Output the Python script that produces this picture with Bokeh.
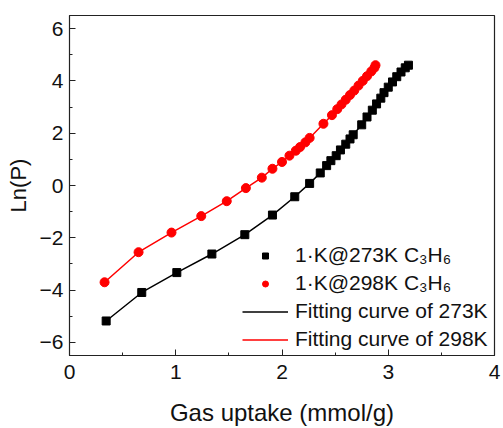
from bokeh.plotting import figure
from bokeh.models import Range1d, SingleIntervalTicker, Legend, LegendItem, ColumnDataSource
from bokeh.embed import file_html
from bokeh.resources import INLINE

# Data
x_273 = [0.345, 0.68, 1.01, 1.34, 1.65, 1.91, 2.12, 2.26, 2.36, 2.42, 2.46, 2.51, 2.55, 2.60,
         2.64, 2.67, 2.75, 2.80, 2.85, 2.89, 2.93, 2.96, 3.00, 3.04, 3.08, 3.12, 3.16, 3.19]
y_273 = [-5.18, -4.09, -3.33, -2.62, -1.88, -1.13, -0.43, 0.08, 0.48, 0.76, 0.95, 1.14, 1.36, 1.58,
         1.78, 1.94, 2.32, 2.62, 2.88, 3.12, 3.34, 3.55, 3.76, 3.96, 4.16, 4.34, 4.50, 4.60]

x_298 = [0.33, 0.65, 0.96, 1.24, 1.48, 1.66, 1.81, 1.91, 2.00, 2.07, 2.13, 2.17, 2.22, 2.26,
         2.39, 2.47, 2.52, 2.56, 2.60, 2.64, 2.68, 2.72, 2.76, 2.80, 2.84, 2.87, 2.88]
y_298 = [-3.70, -2.55, -1.80, -1.17, -0.60, -0.10, 0.30, 0.64, 0.90, 1.14, 1.33, 1.47, 1.65, 1.82,
         2.36, 2.69, 2.92, 3.10, 3.28, 3.46, 3.63, 3.82, 4.00, 4.18, 4.36, 4.50, 4.60]

labels = ["1\u00b7K@273K C\u2083H\u2086", "1\u00b7K@298K C\u2083H\u2086",
          "Fitting curve of 273K", "Fitting curve of 298K"]

FONT = "Liberation Sans"

p = figure(width=503, height=428, output_backend="svg", toolbar_location=None,
           x_range=Range1d(0, 4), y_range=Range1d(-6.5, 6.5),
           min_border_left=69, min_border_right=9, min_border_top=15, min_border_bottom=70)

p.xgrid.visible = False
p.ygrid.visible = False
p.outline_line_color = "#222222"
p.outline_line_width = 1.2
p.background_fill_color = "white"
p.border_fill_color = "white"

p.xaxis.ticker = SingleIntervalTicker(interval=1, num_minor_ticks=2)
p.yaxis.ticker = SingleIntervalTicker(interval=2, num_minor_ticks=2)
for ax in (p.xaxis[0], p.yaxis[0]):
    ax.major_tick_in = 6
    ax.major_tick_out = 0
    ax.minor_tick_in = 3
    ax.minor_tick_out = 0
    ax.axis_line_color = "#222222"
    ax.major_tick_line_color = "#222222"
    ax.minor_tick_line_color = "#222222"
    ax.major_label_text_font = FONT
    ax.major_label_text_font_size = "21px"
    ax.major_label_text_color = "#111111"
    ax.axis_label_text_font = FONT
    ax.axis_label_text_font_style = "normal"
    ax.axis_label_text_color = "#111111"

p.xaxis.axis_label = "Gas uptake (mmol/g)"
p.yaxis.axis_label = "Ln(P)"
p.xaxis.axis_label_text_font_size = "24px"
p.yaxis.axis_label_text_font_size = "22px"
p.xaxis.major_label_standoff = 9
p.xaxis.axis_label_standoff = 17
p.yaxis.major_label_standoff = 6
p.yaxis.axis_label_standoff = 6

src273 = ColumnDataSource(dict(x=x_273, y=y_273))
src298 = ColumnDataSource(dict(x=x_298, y=y_298))

l273 = p.line("x", "y", source=src273, line_color="black", line_width=1.5)
l298 = p.line("x", "y", source=src298, line_color="red", line_width=1.5)
s273 = p.scatter("x", "y", source=src273, marker="square", size=8, color="black")
s298 = p.scatter("x", "y", source=src298, marker="circle", size=9, color="red")

legend = Legend(items=[
    LegendItem(label=labels[0], renderers=[s273]),
    LegendItem(label=labels[1], renderers=[s298]),
    LegendItem(label=labels[2], renderers=[l273]),
    LegendItem(label=labels[3], renderers=[l298]),
], location=(173, 4))
legend.border_line_alpha = 0
legend.background_fill_alpha = 0
legend.padding = 0
legend.margin = 0
legend.spacing = 4
legend.glyph_width = 46
legend.glyph_height = 15
legend.label_height = 24
legend.label_standoff = 7
legend.label_text_font = FONT
legend.label_text_font_size = "21px"
legend.label_text_color = "#111111"
p.add_layout(legend, "center")

open("out.html", "w").write(file_html(p, INLINE))
